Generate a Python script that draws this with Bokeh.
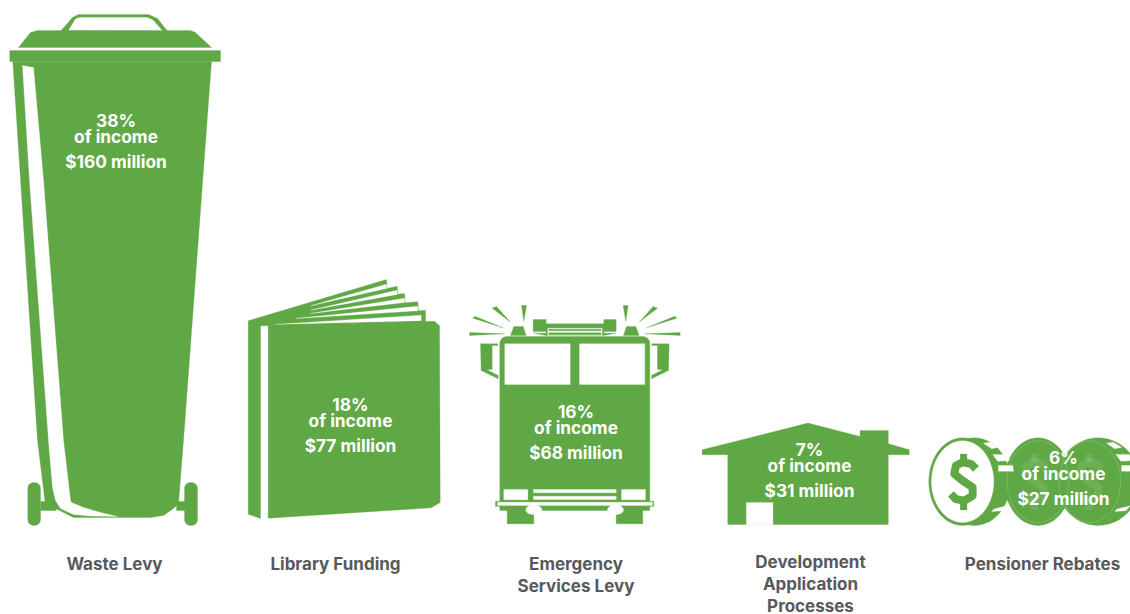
import numpy as np
from bokeh.plotting import figure
from bokeh.models import Range1d, ColumnDataSource
from bokeh.core.properties import value
from bokeh.embed import file_html
from bokeh.resources import INLINE

# ---- chart values ----
categories = ["Waste Levy", "Library Funding", "Emergency Services Levy",
              "Development Application Processes", "Pensioner Rebates"]
label_lines = [["Waste Levy"], ["Library Funding"], ["Emergency", "Services Levy"],
               ["Development", "Application", "Processes"], ["Pensioner Rebates"]]
income_share = [38, 18, 16, 7, 6]
amount_million = [160, 77, 68, 31, 27]

# ---- layout / style ----
GREEN = "#5fa845"
WHITE = "#ffffff"
GREY = "#58595b"
FONT = "Inter"
px_per_million = [3.194, 3.104, 3.21, 3.28, 3.248]
icon_left = [9.3, 247.7, 469.0, 701.7, 928.3]
icon_base = [525.0, 518.0, 523.3, 524.3, 525.0]
text_x = [115.5, 350, 575.5, 809, 1063]
text_y = [120, 404, 411, 449, 457]
label_x = [114, 335, 575.5, 810, 1042]
label_y = [563, 563, 563, 561, 563]


def Z(ox, oy, pts):
    """Outline read at 3x, relative to a crop origin -> artwork units."""
    return [(ox + a / 3, oy + b / 3) for a, b in pts]


def rect(x0, y0, x1, y1):
    return [(x0, y0), (x1, y0), (x1, y1), (x0, y1)]


def ell(cx, cy, rx, ry, n=72):
    t = np.linspace(0, 2 * np.pi, n, endpoint=False)
    return list(zip(cx + rx * np.cos(t), cy + ry * np.sin(t)))


def rrect(x0, y0, x1, y1, r, bottom=True):
    pts = []
    for cx, cy, a0, do in [(x0 + r, y0 + r, 180, True), (x1 - r, y0 + r, 270, True),
                           (x1 - r, y1 - r, 0, bottom), (x0 + r, y1 - r, 90, bottom)]:
        if do:
            for a in np.radians(np.linspace(a0, a0 + 90, 7)):
                pts.append((cx + r * np.cos(a), cy + r * np.sin(a)))
        else:
            pts.append((x1 if a0 == 0 else x0, y1))
    return pts


# ---- icons: (colour, outline) layers in artwork units ----
def waste_bin():
    g, w = GREEN, WHITE
    return [
        (g, [(59, 32), (72, 17), (78, 14), (148, 14), (157, 18), (168, 32)]),
        (w, [(68, 30), (75, 18.5), (79, 17), (147, 17), (153, 20), (162, 30.5)]),
        (g, [(18, 47), (30, 32), (37, 30), (190, 30), (195, 32), (211, 47)]),
        (g, rect(9.3, 50, 220, 61)),
        (g, [(12.3, 61), (211, 61), (183, 440), (178, 503), (173, 508), (163, 515), (150, 517),
             (73, 517), (57, 509), (52, 510), (45, 505), (37, 440)]),
        (w, [(22, 65), (33, 67), (43, 180), (63, 440), (70, 500), (71, 502), (83, 507), (100, 512),
             (117, 516), (90, 515.5), (73, 514), (60, 508), (55, 500), (52, 487), (48, 440), (29, 180)]),
        (g, rect(40, 501, 55, 510)),
        (g, rect(176, 501, 186, 510)),
        (g, rrect(27.3, 482, 40, 525, 6)),
        (g, rrect(184, 482, 197, 525, 6)),
    ]


def book():
    g, w = GREEN, WHITE
    o = (235, 270)
    return [
        (g, Z(*o, [(38, 152), (453, 28), (455, 55), (485, 48), (487, 72), (507, 70), (509, 98), (547, 95),
                   (549, 122), (570, 120), (570, 155), (100, 167), (75, 167), (75, 745), (38, 732)])),
        (w, Z(*o, [(225, 107), (453, 42), (453, 55)])),
        (w, Z(*o, [(225, 120), (485, 60), (485, 73)])),
        (w, Z(*o, [(225, 130), (507, 84), (507, 97)])),
        (w, Z(*o, [(180, 145), (547, 108), (547, 122)])),
        (w, Z(*o, [(118, 163), (557, 135), (557, 152)])),
        (g, Z(*o, [(98, 165), (597, 153), (612, 167), (614, 697), (587, 713), (98, 744)])),
    ]


def fire_truck():
    g, w = GREEN, WHITE
    o = (460, 295)
    ray_l = [[(27, 111), (133, 115), (27, 120)], [(37, 68), (43, 62), (128, 97)],
             [(95, 38), (108, 33), (150, 80)], [(183, 30), (198, 30), (190, 78)]]
    mirror = [(60, 145), (112, 145), (112, 150), (95, 150), (95, 222), (78, 222), (113, 240),
              (113, 250), (62, 225)]
    beacon = [(150, 120), (160, 93), (188, 93), (197, 120)]
    wedge = [(220, 113), (257, 113), (257, 120)]
    flip = lambda pts: [(686 - a, b) for a, b in pts]
    layers = []
    for r in ray_l:
        layers += [(g, Z(*o, r)), (g, Z(*o, flip(r)))]
    for s in (mirror, beacon, wedge):
        layers += [(g, Z(*o, s)), (g, Z(*o, flip(s)))]
    layers += [
        (g, Z(*o, [(218, 72), (257, 72), (257, 85), (430, 85), (430, 72), (467, 72), (467, 108),
                   (430, 108), (430, 120), (257, 120), (257, 108), (218, 108)])),
        (w, Z(*o, rect(262, 98, 425, 120))),
        (g, Z(*o, rect(265, 101, 422, 106))),
        (g, Z(*o, rect(265, 112, 422, 118))),
        (g, rrect(499.3, 336, 649.3, 510, 7, bottom=False)),
        (w, rect(504.3, 343.3, 569.7, 384)),
        (w, rect(579, 343.3, 644.3, 384)),
        (w, rect(503.3, 489, 527.3, 499.3)),
        (w, rect(621, 489, 645, 499.3)),
        (w, rect(533, 489, 615.7, 492.3)),
        (w, rect(533, 495.7, 615.7, 499)),
        (g, rect(495, 500.7, 653.3, 506)),
        (w, rect(497, 501.7, 652, 505)),
        (g, rect(506.7, 506, 533.3, 523.3)),
        (g, rect(615.7, 506, 642.3, 523.3)),
        (w, ell(533.3, 509.3, 8, 4.8)),
        (w, ell(615, 509.3, 8, 4.8)),
    ]
    return layers


def house():
    o = (695, 415)
    return [
        (GREEN, Z(*o, [(20, 103), (338, 23), (495, 63), (495, 45), (580, 45), (580, 85), (643, 103),
                       (643, 118), (580, 118), (580, 328), (97, 328), (97, 118), (20, 118)])),
        (WHITE, Z(*o, rect(153, 262, 233, 329))),
    ]


def coins():
    g, w = GREEN, WHITE
    o = (920, 430)
    stripes = [[(187, 38), (207, 35), (232, 50), (212, 55)],
               [(215, 72), (255, 72), (265, 90), (230, 92)],
               [(232, 105), (275, 105), (277, 122), (232, 122)],
               [(218, 235), (258, 225), (245, 240), (212, 242)]]
    layers = [
        (g, Z(*o, ell(530, 153, 125, 131))),
        (g, Z(*o, ell(350, 153, 100, 131))),
        (g, Z(*o, ell(160, 153, 108, 131))),
    ]
    for s in stripes:
        layers.append((w, Z(*o, s)))
    for s in stripes:
        layers.append((w, Z(*o, [(a + 368, b) for a, b in s])))
    layers += [
        (g, Z(*o, ell(125, 153, 101, 131))),
        (w, Z(*o, ell(125, 153, 93, 122))),
    ]
    return layers


artwork = [waste_bin(), book(), fire_truck(), house(), coins()]

# ---- figure ----
p = figure(width=1130, height=614, output_backend="svg", toolbar_location=None,
           x_range=Range1d(0, 1130), y_range=Range1d(614, 0),
           min_border=0, outline_line_color=None, background_fill_color="white",
           border_fill_color="white")
p.axis.visible = False
p.grid.visible = False

transforms = []
for layers, amt, k, left, base in zip(artwork, amount_million, px_per_million, icon_left, icon_base):
    allpts = [q for _, pts in layers for q in pts]
    ax = [q[0] for q in allpts]
    ay = [q[1] for q in allpts]
    a0, a1, b0, b1 = min(ax), max(ax), min(ay), max(ay)
    s = amt * k / (b1 - b0)
    tf = lambda a, b, a0=a0, b1=b1, s=s, left=left, base=base: (left + (a - a0) * s, base - (b1 - b) * s)
    transforms.append(tf)
    src = dict(xs=[], ys=[], c=[])
    for col, pts in layers:
        xy = [tf(a, b) for a, b in pts]
        src["xs"].append([q[0] for q in xy])
        src["ys"].append([q[1] for q in xy])
        src["c"].append(col)
    p.patches("xs", "ys", fill_color="c", line_color="c", line_width=0.3, source=ColumnDataSource(src))

# dollar signs on the coins
dollar_s = [(165, 115), (150, 100), (125, 95), (105, 105), (100, 130), (125, 150), (155, 170),
            (155, 195), (130, 210), (105, 205), (90, 190)]
dollar_bars = [[(128, 70), (128, 95)], [(128, 210), (128, 238)]]
tf = transforms[4]
for dx, col, alpha, lw in [(0, GREEN, 1, 8), (212, WHITE, 0.10, 8), (375, WHITE, 0.10, 8)]:
    for path, w in [(dollar_s, lw)] + [(b, lw - 1) for b in dollar_bars]:
        xy = [tf(*Z(920, 430, [(a + dx, b)])[0]) for a, b in path]
        p.line([q[0] for q in xy], [q[1] for q in xy], line_color=col, line_alpha=alpha, line_width=w,
               line_join="round")
# faint rims on the ghost coins
for cx in (350, 505):
    xy = [tf(*q) for q in Z(920, 430, ell(cx, 153, 92, 122))]
    p.line([q[0] for q in xy] + [xy[0][0]], [q[1] for q in xy] + [xy[0][1]], line_color=WHITE,
           line_alpha=0.25, line_width=0.7)

# ---- texts ----
for share, amt, x, y in zip(income_share, amount_million, text_x, text_y):
    for txt, yy in [(f"{share}%", y), ("of income", y + 16), (f"${amt} million", y + 40.5)]:
        p.text([x], [yy], text=[txt], text_color=WHITE, text_font=value(FONT), text_font_style="bold",
               text_font_size="17.3px", text_align="center", text_baseline="middle")

for lines, x, y in zip(label_lines, label_x, label_y):
    for i, txt in enumerate(lines):
        p.text([x], [y + 22 * i], text=[txt], text_color=GREY, text_font=value(FONT), text_font_style="bold",
               text_font_size="17px", text_align="center", text_baseline="middle")

open("out.html", "w").write(file_html(p, INLINE))
